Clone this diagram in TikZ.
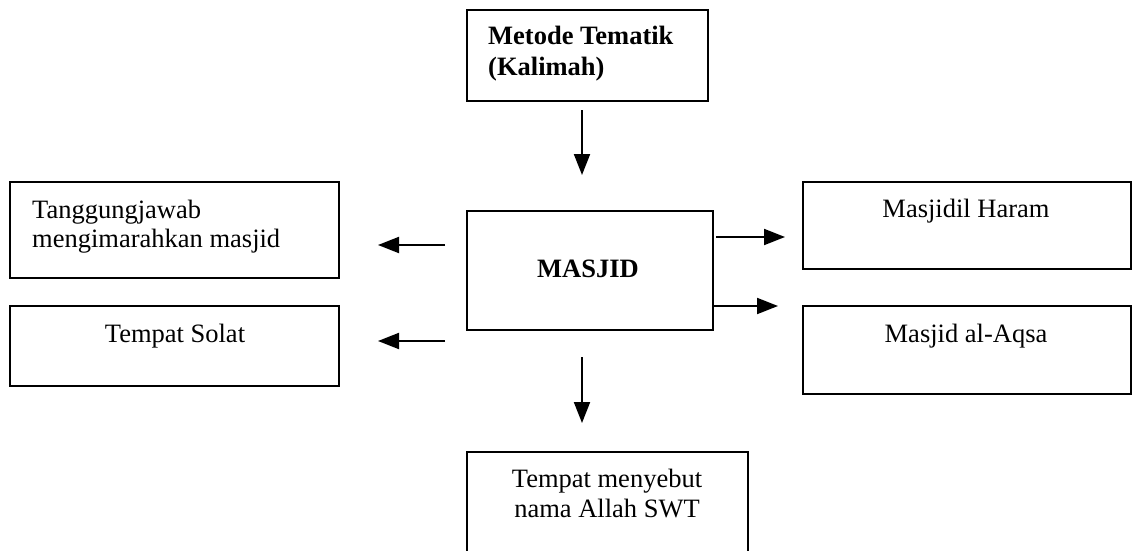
\documentclass[tikz,border=0pt]{standalone}
\usepackage{fontspec}
\setmainfont{Liberation Serif}
\usetikzlibrary{arrows.meta}
\tikzset{
  box/.style={draw=black, line width=1.6pt, inner sep=0pt, anchor=north west},
  txt/.style={inner sep=0pt, font=\fontsize{26.5}{30}\selectfont},
  arr/.style={line width=2pt, -{Triangle[length=21pt,width=16pt]}},
}
\begin{document}
\begin{tikzpicture}[x=1pt,y=-1pt]
\useasboundingbox (0,0) rectangle (1133,551);
\clip (0,0) rectangle (1133,551);
% boxes
\node[box, minimum width=241pt, minimum height=91pt] (top) at (466,9) {};
\node[box, minimum width=329pt, minimum height=96pt] (lt) at (9,181) {};
\node[box, minimum width=329pt, minimum height=80pt] (lb) at (9,305) {};
\node[box, minimum width=246pt, minimum height=119pt] (mid) at (466,210) {};
\node[box, minimum width=328pt, minimum height=87pt] (rt) at (802,181) {};
\node[box, minimum width=328pt, minimum height=88pt] (rb) at (802,305) {};
\node[box, minimum width=281pt, minimum height=110pt] (bot) at (466,451) {};
% texts
\node[txt, anchor=base west] (t1) at (488,45) {\bfseries Metode Tematik};
\node[txt, anchor=base west] (t2) at (488,75) {\bfseries (Kalimah)};
\node[txt, anchor=base west] (l1) at (32,218) {Tanggungjawab};
\node[txt, anchor=base west] (l2) at (32,247) {mengimarahkan masjid};
\node[txt, anchor=base] (l3) at (175,342) {Tempat Solat};
\node[txt, anchor=base] (m1) at (588,277) {\bfseries MASJID};
\node[txt, anchor=base] (r1) at (966,217) {Masjidil Haram};
\node[txt, anchor=base] (r2) at (966,342) {Masjid al-Aqsa};
\node[txt, anchor=base] (b1) at (607,487) {Tempat menyebut};
\node[txt, anchor=base] (b2) at (607,517) {nama Allah SWT};
% arrow end points
\coordinate (a1s) at (582,110); \coordinate (a1e) at (582,175);
\coordinate (a2s) at (445,245); \coordinate (a2e) at (378,245);
\coordinate (a3s) at (445,341); \coordinate (a3e) at (378,341);
\coordinate (a4s) at (716,237); \coordinate (a4e) at (785,237);
\coordinate (a5s) at (712,306); \coordinate (a5e) at (778,306);
\coordinate (a6s) at (582,357); \coordinate (a6e) at (582,423);
\draw[arr] (a1s) -- (a1e);
\draw[arr] (a2s) -- (a2e);
\draw[arr] (a3s) -- (a3e);
\draw[arr] (a4s) -- (a4e);
\draw[arr] (a5s) -- (a5e);
\draw[arr] (a6s) -- (a6e);
\end{tikzpicture}
\end{document}
